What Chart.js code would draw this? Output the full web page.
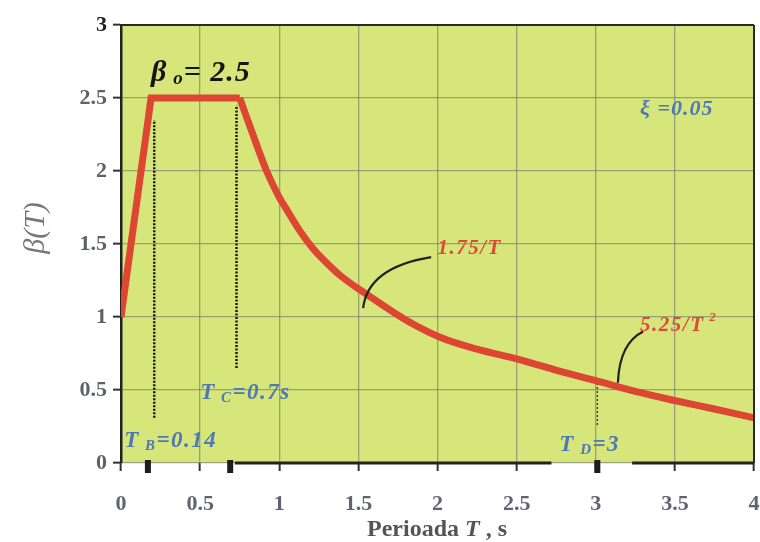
<!DOCTYPE html>
<html>
<head>
<meta charset="utf-8">
<script src="https://cdn.jsdelivr.net/npm/chart.js@4/dist/chart.umd.min.js"></script>
<style>
  html, body { margin: 0; padding: 0; background: #ffffff; }
  #wrap { width: 760px; height: 542px; }
</style>
</head>
<body>
<div id="wrap"><canvas id="c" width="760" height="542"></canvas></div>
<script>
// ---- data ----
// rising ramp and plateau
const rampT = [0, 0.19, 0.75];
const rampB = [1.0, 2.5, 2.5];
// descending branch (1.75/T, then 5.25/T^2)
const decayT = [0.75, 0.85, 0.92, 1.0, 1.05, 1.13, 1.22, 1.30, 1.39, 1.56, 1.8, 2.02, 2.25, 2.53, 2.8, 3.03, 3.25, 3.49, 3.75, 4.0];
const decayB = [2.5, 2.2, 2.0, 1.82, 1.73, 1.59, 1.46, 1.37, 1.28, 1.15, 0.98, 0.86, 0.78, 0.705, 0.62, 0.555, 0.49, 0.43, 0.37, 0.31];

// dotted guide lines (T, from beta, to beta)
const guideTB = { t: 0.21, from: 0.31, to: 2.35 };
const guideTC = { t: 0.73, from: 0.65, to: 2.45 };
const guideTD = { t: 3.01, from: 0.26, to: 0.55 };
// short thick marks under the axis
const markT = [0.17, 0.69, 3.01];
// visible pieces of the bottom axis line (T from, T to)
const axisPieces = [[0.72, 2.72], [3.23, 4.0]];

const xTickValues = [0, 0.5, 1, 1.5, 2, 2.5, 3, 3.5, 4];
const yTickValues = [0, 0.5, 1, 1.5, 2, 2.5, 3];

// annotation texts: [text, font size, vertical shift], anchor values (T, beta)
const notes = [
  { parts: [["β", 30, 0], [" o", 19, 6], ["= 2.5", 30, 0]], t: 0.19, b: 2.67, color: "#151515", sp: 1 },
  { parts: [["ξ =0.05", 22, 0]], t: 3.28, b: 2.42, color: "#4f78b4", sp: 1 },
  { parts: [["1.75/T", 21, 0]], t: 2.0, b: 1.47, color: "#dd4a35", sp: 1.5 },
  { parts: [["5.25/T", 21, 0], [" 2", 13, -8]], t: 3.28, b: 0.94, color: "#dd4a35", sp: 1.5 },
  { parts: [["T", 23, 0], [" C", 15, 5], ["=0.7s", 23, 0]], t: 0.5, b: 0.48, color: "#4f78b4", sp: 1.5 },
  { parts: [["T", 23, 0], [" B", 15, 5], ["=0.14", 23, 0]], t: 0.02, b: 0.15, color: "#4f78b4", sp: 1.5 },
  { parts: [["T", 23, 0], [" D", 15, 5], ["=3", 23, 0]], t: 2.77, b: 0.12, color: "#4f78b4", sp: 1.5 }
];
// leader curves: start, control, end in (T, beta)
const leaders = [
  [[1.53, 1.06], [1.56, 1.34], [1.96, 1.41]],
  [[3.14, 0.55], [3.15, 0.82], [3.30, 0.90]]
];

const FONT = "'Liberation Serif', 'DejaVu Serif', serif";
Chart.defaults.font.family = FONT;

const toPts = (xs, ys) => xs.map((t, i) => ({ x: t, y: ys[i] }));
const guideData = g => [{ x: g.t, y: g.from }, { x: g.t, y: g.to }];
const fmt = v => String(v);

const plotBg = {
  id: 'plotBg',
  beforeDraw(chart) {
    const { ctx, chartArea: a } = chart;
    ctx.save();
    ctx.fillStyle = '#d7e67b';
    ctx.fillRect(a.left, a.top, a.right - a.left, a.bottom - a.top);
    ctx.restore();
  },
  afterDatasetsDraw(chart) {
    const { ctx, chartArea: a, scales } = chart;
    const xs = scales.x, ys = scales.y;
    ctx.save();
    // top and right frame
    ctx.strokeStyle = '#2a2a2a';
    ctx.lineWidth = 2;
    ctx.beginPath();
    ctx.moveTo(a.left, a.top); ctx.lineTo(a.right, a.top);
    ctx.moveTo(a.right, a.top); ctx.lineTo(a.right, a.bottom);
    ctx.stroke();
    // bottom axis line pieces
    ctx.lineWidth = 3;
    ctx.strokeStyle = '#222';
    ctx.beginPath();
    axisPieces.forEach(p => {
      ctx.moveTo(xs.getPixelForValue(p[0]), a.bottom);
      ctx.lineTo(xs.getPixelForValue(p[1]), a.bottom);
    });
    ctx.stroke();
    // thick marks under axis
    ctx.fillStyle = '#1e1e1e';
    markT.forEach(t => {
      const px = xs.getPixelForValue(t);
      ctx.fillRect(px - 3, a.bottom - 3, 6, 13);
    });
    // leader curves
    ctx.strokeStyle = '#222';
    ctx.lineWidth = 2.2;
    leaders.forEach(l => {
      ctx.beginPath();
      ctx.moveTo(xs.getPixelForValue(l[0][0]), ys.getPixelForValue(l[0][1]));
      ctx.quadraticCurveTo(xs.getPixelForValue(l[1][0]), ys.getPixelForValue(l[1][1]),
                           xs.getPixelForValue(l[2][0]), ys.getPixelForValue(l[2][1]));
      ctx.stroke();
    });
    // annotation texts
    ctx.textBaseline = 'middle';
    notes.forEach(n => {
      let px = xs.getPixelForValue(n.t);
      const py = ys.getPixelForValue(n.b);
      ctx.fillStyle = n.color;
      ctx.letterSpacing = n.sp + 'px';
      n.parts.forEach(p => {
        ctx.font = 'italic bold ' + p[1] + 'px ' + FONT;
        ctx.fillText(p[0], px, py + p[2]);
        px += ctx.measureText(p[0]).width;
      });
    });
    ctx.letterSpacing = '0px';
    // axis titles
    ctx.fillStyle = '#555';
    ctx.textBaseline = 'middle';
    const title = [["Perioada ", false], ["T", true], [" , s", false]];
    const tf = p => (p[1] ? 'italic ' : '') + 'bold 24px ' + FONT;
    let tw = 0;
    title.forEach(p => { ctx.font = tf(p); tw += ctx.measureText(p[0]).width; });
    let tx = 437 - tw / 2;
    title.forEach(p => {
      ctx.font = tf(p);
      ctx.fillText(p[0], tx, 530);
      tx += ctx.measureText(p[0]).width;
    });
    ctx.save();
    ctx.translate(36, 228);
    ctx.rotate(-Math.PI / 2);
    ctx.textAlign = 'center';
    ctx.fillStyle = '#777';
    ctx.font = 'italic 30px ' + FONT;
    ctx.fillText('β(T)', 0, 0);
    ctx.restore();
    ctx.restore();
  }
};

new Chart(document.getElementById('c'), {
  type: 'line',
  data: {
    datasets: [
      { data: toPts(rampT, rampB), borderColor: '#dc4632', borderWidth: 7, pointRadius: 0, tension: 0, borderJoinStyle: 'miter', order: 0 },
      { data: toPts(decayT, decayB), borderColor: '#dc4632', borderWidth: 7, pointRadius: 0, cubicInterpolationMode: 'monotone', order: 0 },
      { data: guideData(guideTB), borderColor: '#1a1a1a', borderWidth: 2.5, borderDash: [2, 1.5], pointRadius: 0, order: 1 },
      { data: guideData(guideTC), borderColor: '#1a1a1a', borderWidth: 2.5, borderDash: [2, 1.5], pointRadius: 0, order: 1 },
      { data: guideData(guideTD), borderColor: '#444', borderWidth: 1.5, borderDash: [2, 2], pointRadius: 0, order: 1 }
    ]
  },
  options: {
    responsive: false,
    animation: false,
    layout: { padding: { top: 25, right: 6, left: 0, bottom: 0 } },
    plugins: { legend: { display: false }, tooltip: { enabled: false } },
    scales: {
      x: {
        type: 'linear', min: 0, max: 4,
        afterBuildTicks: s => { s.ticks = xTickValues.map(v => ({ value: v })); },
        afterFit: s => { s.height = 79; s.paddingLeft = 0; s.paddingRight = 0; },
        grid: { color: 'rgba(115,115,115,0.6)', lineWidth: 1.3, tickLength: 8, tickColor: '#333', tickWidth: 2 },
        border: { display: false },
        ticks: { padding: 20, color: '#5e6470', font: { size: 22, weight: 'bold' }, maxRotation: 0, callback: fmt }
      },
      y: {
        type: 'linear', min: 0, max: 3,
        afterBuildTicks: s => { s.ticks = yTickValues.map(v => ({ value: v })); },
        afterFit: s => { s.width = 121; s.paddingTop = 0; s.paddingBottom = 0; },
        grid: { color: 'rgba(115,115,115,0.6)', lineWidth: 1.3, tickLength: 8, tickColor: '#333', tickWidth: 2 },
        border: { color: '#222', width: 2.5 },
        ticks: { padding: 6, color: c => (c.tick && c.tick.value === 3 ? '#222' : '#5e6268'), font: { size: 22, weight: 'bold' }, callback: fmt }
      }
    }
  },
  plugins: [plotBg]
});
</script>
</body>
</html>
